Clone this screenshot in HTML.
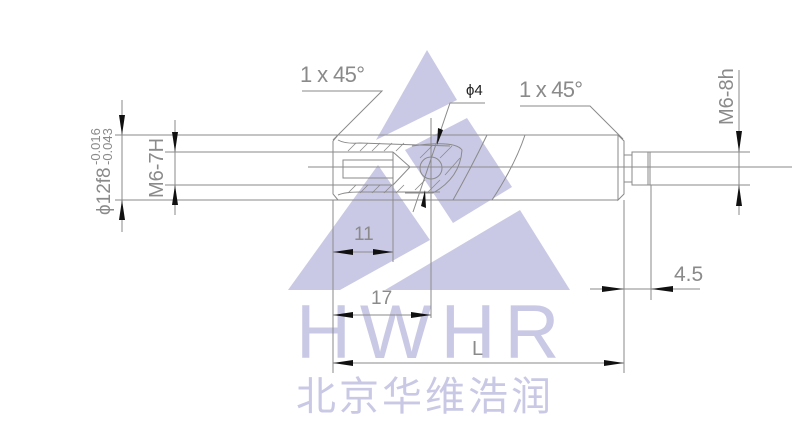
<!DOCTYPE html>
<html><head><meta charset="utf-8"><style>
html,body{margin:0;padding:0;background:#fff;}
svg{display:block;}
.t{font-family:"Liberation Sans",sans-serif;fill:#8a8a8a;font-weight:300;}
</style></head><body>
<svg width="800" height="435" viewBox="0 0 800 435" xmlns="http://www.w3.org/2000/svg">
<!-- watermark -->
<g fill="#c9c9e5">
<polygon points="427,50 457,100 376,140"/>
<polygon points="467,118 512,187 453,223 405,150"/>
<polygon points="288,290 378,165 430,240 340,290"/>
<polygon points="520,210 570,290 385,290"/>
</g>
<text x="296" y="358" font-family="Liberation Sans,sans-serif" font-size="76" fill="#c9c9e5" letter-spacing="9">HWHR</text>
<text x="296" y="410" font-family="Liberation Sans,'Noto Sans CJK SC',sans-serif" font-size="40" fill="#c9c9e5" letter-spacing="3">北京华维浩润</text>

<g stroke="#8a8a8a" stroke-width="1" fill="none">
<!-- extension long lines -->
<line x1="115" y1="135" x2="525" y2="135"/>
<line x1="115" y1="200" x2="492" y2="200"/>
<line x1="165" y1="152" x2="393" y2="152"/>
<line x1="165" y1="185" x2="393" y2="185"/>
<line x1="308" y1="167" x2="792" y2="167"/>
<!-- body -->
<line x1="525" y1="135" x2="618" y2="135"/>
<line x1="492" y1="200" x2="618" y2="200"/>
<polyline points="618,135 624,141 624,194 618,200 618,135"/>
<path d="M333,141 L338,135 M333,141 L333,194 L338,200"/>
<path d="M525,135 Q515,165 492,200"/>
<path d="M487,135 Q470,170 453,200"/>
<!-- neck & thread -->
<rect x="624" y="155" width="8" height="27"/>
<rect x="632" y="152" width="18" height="33"/>
<line x1="648" y1="152" x2="648" y2="185"/>
<line x1="650" y1="152" x2="750" y2="152"/>
<line x1="650" y1="185" x2="750" y2="185"/>
<!-- internal -->
<path d="M338,140 Q345,144 360,143 L450,146"/>
<path d="M338,195 Q345,192 360,192 L440,192"/>
<rect x="343" y="160" width="50" height="18"/>
<line x1="393" y1="152" x2="393" y2="185"/>
<polyline points="393,152 410,167 393,185"/>
<path d="M412,146 Q455,140 462,150 Q460,178 433,193 L405,193"/>
<circle cx="431" cy="168" r="11"/>
<!-- hatch -->
<g stroke-width="0.8">
<path d="M348,151 L356,143 M360,151 L368,143 M372,151 L380,143 M384,151 L392,143 M396,151 L404,143"/>
<path d="M348,193 L356,185 M360,193 L368,185 M372,193 L380,185 M384,193 L392,185 M396,193 L404,185"/>
<path d="M420,158 L432,146 M440,158 L452,146 M445,175 L460,158 M415,190 L425,180 M428,192 L440,180"/>
</g>
<!-- vertical from cross hole -->
<line x1="431" y1="118" x2="431" y2="318"/>
<!-- dims left -->
<line x1="122" y1="100" x2="122" y2="232"/>
<line x1="175" y1="120" x2="175" y2="215"/>
<!-- 1x45 leaders -->
<polyline points="302,91 382,91 333,140"/>
<polyline points="520,106 590,106 623,139"/>
<!-- phi4 leader -->
<polyline points="485,103 450,103 413,212"/>
<!-- M6-8h -->
<line x1="739" y1="70" x2="739" y2="215"/>
<!-- extension lines down -->
<line x1="333" y1="200" x2="333" y2="373"/>
<line x1="393" y1="185" x2="393" y2="262"/>
<line x1="624" y1="200" x2="624" y2="373"/>
<line x1="651" y1="185" x2="651" y2="300"/>
<!-- dim lines -->
<line x1="333" y1="252" x2="393" y2="252"/>
<line x1="333" y1="315" x2="431" y2="315"/>
<line x1="333" y1="363" x2="624" y2="363"/>
<line x1="590" y1="289" x2="700" y2="289"/>
</g>
<!-- arrowheads -->
<g fill="#111">
<polygon points="122,135 119,115 125,115"/>
<polygon points="122,200 119,220 125,220"/>
<polygon points="175,152 172,132 178,132"/>
<polygon points="175,185 172,205 178,205"/>
<polygon points="739,152 736,131 742,131"/>
<polygon points="739,185 736,206 742,206"/>
<polygon points="333,252 353,249 353,255"/>
<polygon points="393,252 373,249 373,255"/>
<polygon points="333,315 353,312 353,318"/>
<polygon points="431,315 411,312 411,318"/>
<polygon points="333,363 353,360 353,366"/>
<polygon points="624,363 604,360 604,366"/>
<polygon points="624,289 602,286 602,292"/>
<polygon points="651,289 673,286 673,292"/>
<polygon points="437,145 438,128 443,130"/>
<polygon points="425,190 421,206 426,208"/>
</g>
<!-- labels -->
<text class="t" x="300" y="82" font-size="22" textLength="65">1 x 45°</text>
<text class="t" x="519" y="97" font-size="22" textLength="64">1 x 45°</text>
<text x="466" y="95" font-family="Liberation Sans,sans-serif" font-size="15" fill="#222">ϕ4</text>
<text class="t" x="354" y="240" font-size="19">11</text>
<text class="t" x="371" y="304" font-size="19">17</text>
<text class="t" x="472" y="355" font-size="20">L</text>
<text class="t" x="674" y="281" font-size="21">4.5</text>
<text class="t" font-size="20" transform="translate(733,125) rotate(-90)">M6-8h</text>
<text class="t" font-size="20" transform="translate(163,198) rotate(-90)">M6-7H</text>
<text class="t" font-size="19" transform="translate(110,215) rotate(-90)">ϕ12f8</text>
<text class="t" font-size="13" transform="translate(112,165) rotate(-90)">-0.043</text>
<text class="t" font-size="13" transform="translate(100,165) rotate(-90)">-0.016</text>
</svg>
</body></html>
